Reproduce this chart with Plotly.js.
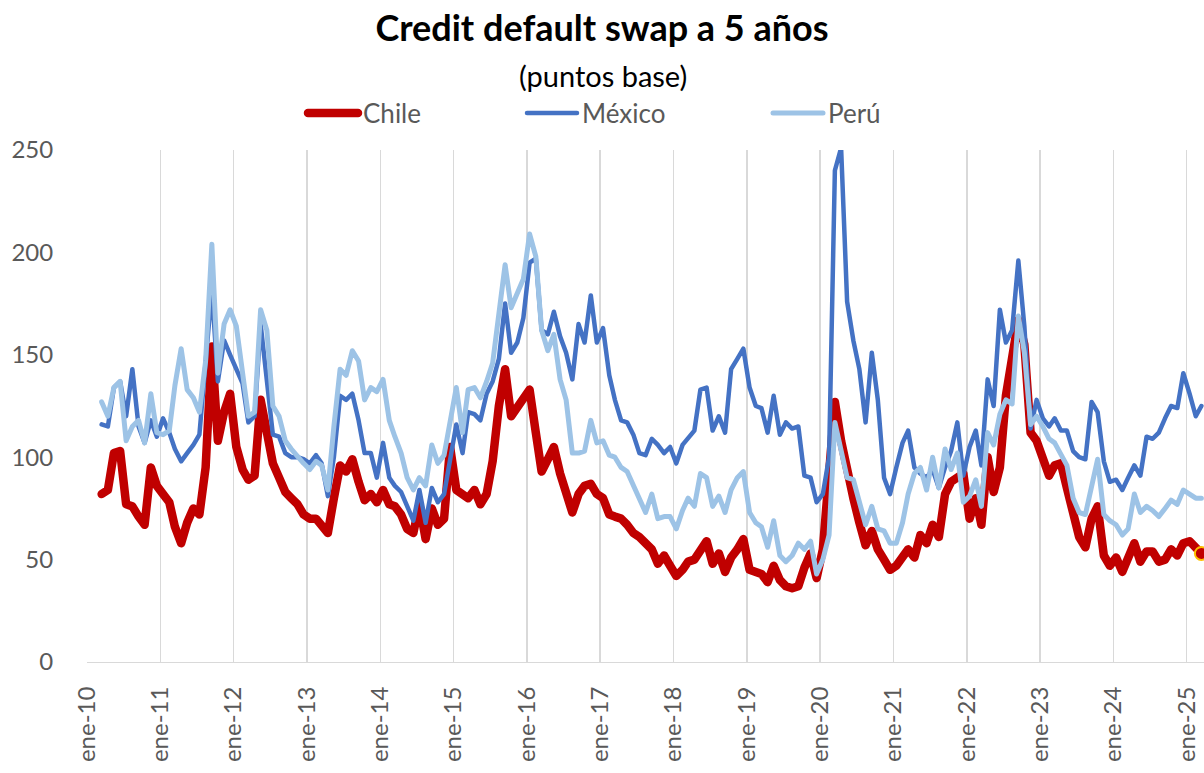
<!DOCTYPE html>
<html>
<head>
<meta charset="utf-8">
<script src="https://cdn.plot.ly/plotly-3.0.1.min.js"></script>
<style>
  html, body { margin: 0; padding: 0; background: #fff; }
  #chart { width: 1204px; height: 773px; }
  .js-line { stroke-linejoin: round !important; stroke-linecap: round !important; }
</style>
</head>
<body>
<div id="chart"></div>
<script>
// Monthly observations (mid-month), Mar-2010 .. Mar-2025
const months = [
  "2010-03-15","2010-04-15","2010-05-15","2010-06-15","2010-07-15","2010-08-15","2010-09-15","2010-10-15","2010-11-15","2010-12-15",
  "2011-01-15","2011-02-15","2011-03-15","2011-04-15","2011-05-15","2011-06-15","2011-07-15","2011-08-15","2011-09-15","2011-10-15","2011-11-15","2011-12-15",
  "2012-01-15","2012-02-15","2012-03-15","2012-04-15","2012-05-15","2012-06-15","2012-07-15","2012-08-15","2012-09-15","2012-10-15","2012-11-15","2012-12-15",
  "2013-01-15","2013-02-15","2013-03-15","2013-04-15","2013-05-15","2013-06-15","2013-07-15","2013-08-15","2013-09-15","2013-10-15","2013-11-15","2013-12-15",
  "2014-01-15","2014-02-15","2014-03-15","2014-04-15","2014-05-15","2014-06-15","2014-07-15","2014-08-15","2014-09-15","2014-10-15","2014-11-15","2014-12-15",
  "2015-01-15","2015-02-15","2015-03-15","2015-04-15","2015-05-15","2015-06-15","2015-07-15","2015-08-15","2015-09-15","2015-10-15","2015-11-15","2015-12-15",
  "2016-01-15","2016-02-15","2016-03-15","2016-04-15","2016-05-15","2016-06-15","2016-07-15","2016-08-15","2016-09-15","2016-10-15","2016-11-15","2016-12-15",
  "2017-01-15","2017-02-15","2017-03-15","2017-04-15","2017-05-15","2017-06-15","2017-07-15","2017-08-15","2017-09-15","2017-10-15","2017-11-15","2017-12-15",
  "2018-01-15","2018-02-15","2018-03-15","2018-04-15","2018-05-15","2018-06-15","2018-07-15","2018-08-15","2018-09-15","2018-10-15","2018-11-15","2018-12-15",
  "2019-01-15","2019-02-15","2019-03-15","2019-04-15","2019-05-15","2019-06-15","2019-07-15","2019-08-15","2019-09-15","2019-10-15","2019-11-15","2019-12-15",
  "2020-01-15","2020-02-15","2020-03-15","2020-04-15","2020-05-15","2020-06-15","2020-07-15","2020-08-15","2020-09-15","2020-10-15","2020-11-15","2020-12-15",
  "2021-01-15","2021-02-15","2021-03-15","2021-04-15","2021-05-15","2021-06-15","2021-07-15","2021-08-15","2021-09-15","2021-10-15","2021-11-15","2021-12-15",
  "2022-01-15","2022-02-15","2022-03-15","2022-04-15","2022-05-15","2022-06-15","2022-07-15","2022-08-15","2022-09-15","2022-10-15","2022-11-15","2022-12-15",
  "2023-01-15","2023-02-15","2023-03-15","2023-04-15","2023-05-15","2023-06-15","2023-07-15","2023-08-15","2023-09-15","2023-10-15","2023-11-15","2023-12-15",
  "2024-01-15","2024-02-15","2024-03-15","2024-04-15","2024-05-15","2024-06-15","2024-07-15","2024-08-15","2024-09-15","2024-10-15","2024-11-15","2024-12-15",
  "2025-01-15","2025-02-15","2025-03-15"
];

const chile = [
  82, 84, 102, 103, 77, 76, 71, 67, 95, 86,
  82, 78, 66, 58, 68, 75, 72, 95, 154, 108, 122, 131,
  105, 94, 89, 91, 128, 110, 97, 90, 83, 80, 77, 72,
  70, 70, 66, 63, 80, 96, 93, 99, 88, 79, 82, 78,
  84, 77, 76, 72, 65, 63, 77, 60, 75, 67, 70, 105,
  84, 82, 80, 84, 77, 82, 98, 125, 143, 120, 124, 128,
  133, 112, 93, 99, 105, 92, 81, 73, 82, 86, 87, 82,
  80, 72, 71, 70, 67, 63, 61, 58, 55, 48, 52, 47,
  42, 45, 49, 50, 55, 59, 48, 53, 44, 51, 55, 60,
  45, 44, 43, 39, 47, 40, 37, 36, 37, 46, 53, 41,
  55, 92, 127, 108, 92, 80, 68, 57, 64, 55, 50, 45,
  47, 52, 55, 51, 62, 58, 67, 61, 82, 88, 90, 92,
  70, 80, 67, 100, 83, 95, 130, 150, 167, 155, 112, 108,
  100, 91, 96, 97, 85, 72, 61, 56, 70, 76, 52, 47,
  51, 44, 50, 58, 49, 54, 54, 49, 50, 55, 52, 58,
  59, 56, 53
];

const mexico = [
  116, 115, 134, 137, 120, 143, 115, 107, 118, 110,
  119, 112, 104, 98, 102, 106, 111, 147, 182, 137, 157, 150,
  143, 136, 117, 120, 165, 137, 111, 110, 102, 100, 100, 99,
  97, 101, 97, 81, 100, 130, 128, 131, 118, 102, 102, 90,
  107, 90, 86, 83, 76, 69, 84, 68, 85, 78, 82, 98,
  116, 102, 122, 121, 118, 131, 137, 148, 175, 151, 156, 168,
  195, 197, 162, 160, 171, 159, 151, 138, 165, 156, 179, 156,
  163, 140, 128, 118, 117, 111, 102, 101, 109, 106, 102, 105,
  97, 106, 109, 113, 133, 134, 113, 120, 112, 143, 148, 153,
  134, 125, 124, 112, 130, 111, 117, 114, 115, 91, 90, 78,
  82, 100, 240, 251, 176, 157, 143, 117, 151, 128, 90, 82,
  95, 107, 113, 95, 92, 90, 94, 85, 95, 103, 117, 91,
  105, 113, 96, 138, 125, 172, 156, 162, 196, 164, 114, 128,
  119, 115, 119, 113, 113, 103, 100, 99, 127, 122, 98, 88,
  89, 84, 90, 96, 91, 110, 109, 112, 119, 125, 124, 141,
  131, 120, 125
];

const peru = [
  127, 120, 134, 137, 108, 115, 118, 107, 131, 112,
  111, 113, 135, 153, 133, 129, 122, 147, 204, 141, 165, 172,
  164, 143, 120, 122, 172, 162, 125, 120, 108, 104, 100, 97,
  94, 98, 96, 84, 115, 143, 140, 152, 147, 128, 134, 132,
  138, 118, 110, 102, 90, 84, 90, 86, 106, 97, 101, 118,
  134, 112, 133, 134, 129, 137, 146, 170, 194, 173, 180, 187,
  209, 198, 162, 152, 160, 138, 128, 102, 102, 103, 118, 107,
  108, 101, 100, 95, 93, 86, 79, 73, 82, 70, 71, 71,
  65, 74, 80, 76, 92, 90, 76, 81, 73, 84, 90, 93,
  73, 68, 66, 56, 69, 52, 49, 52, 58, 55, 59, 43,
  50, 62, 117, 102, 90, 89, 78, 67, 76, 65, 64, 58,
  58, 68, 82, 92, 95, 84, 100, 85, 104, 94, 102, 78,
  81, 89, 76, 112, 106, 121, 128, 126, 169, 151, 116, 120,
  115, 109, 107, 102, 96, 80, 73, 72, 85, 99, 72, 69,
  67, 62, 65, 82, 73, 76, 74, 71, 75, 79, 77, 84,
  82, 80, 80
];

const tickDates = ["2010-01-01","2011-01-01","2012-01-01","2013-01-01","2014-01-01","2015-01-01","2016-01-01","2017-01-01",
                   "2018-01-01","2019-01-01","2020-01-01","2021-01-01","2022-01-01","2023-01-01","2024-01-01","2025-01-01"];
const tickText = ["ene-10","ene-11","ene-12","ene-13","ene-14","ene-15","ene-16","ene-17",
                  "ene-18","ene-19","ene-20","ene-21","ene-22","ene-23","ene-24","ene-25"];
const yTicks = [0, 50, 100, 150, 200, 250];

const FONT = "Lato, 'Noto Sans', sans-serif";
const GREY = '#595959';

const traces = [
  { x: months, y: chile, name: 'Chile', type: 'scatter', mode: 'lines',
    line: { color: '#C00000', width: 8.5 }, legend: 'legend', hoverinfo: 'skip' },
  { x: months, y: mexico, name: 'México', type: 'scatter', mode: 'lines',
    line: { color: '#4472C4', width: 4.5 }, legend: 'legend2', hoverinfo: 'skip' },
  { x: months, y: peru, name: 'Perú', type: 'scatter', mode: 'lines',
    line: { color: '#9DC3E6', width: 5 }, legend: 'legend3', hoverinfo: 'skip' },
  { x: [months[months.length - 1]], y: [chile[chile.length - 1]], type: 'scatter', mode: 'markers',
    marker: { size: 13, color: '#C00000', line: { color: '#FFC000', width: 2 } },
    showlegend: false, hoverinfo: 'skip', cliponaxis: true }
];

const legendBase = {
  orientation: 'h', yanchor: 'middle', y: 1.0723, xanchor: 'left',
  font: { family: FONT, size: 26, color: GREY }, bgcolor: 'rgba(0,0,0,0)',
  itemwidth: 50, tracegroupgap: 0
};

const layout = {
  width: 1204, height: 773,
  margin: { l: 87, r: 0, t: 150, b: 111, pad: 0 },
  paper_bgcolor: '#fff', plot_bgcolor: '#fff',
  font: { family: FONT, color: GREY },
  title: {
    text: '<b>Credit default swap a 5 años</b>',
    font: { family: FONT, size: 36, color: '#000' },
    x: 0.5, xref: 'container', xanchor: 'center',
    y: 1 - 28 / 773, yref: 'container', yanchor: 'middle'
  },
  annotations: [{
    text: '(puntos base)', xref: 'paper', yref: 'paper',
    x: (603 - 87) / 1117, y: 1 + (150 - 75) / 512, xanchor: 'center', yanchor: 'middle',
    showarrow: false, font: { family: FONT, size: 29, color: '#000' }
  }],
  xaxis: {
    type: 'date', range: ['2010-01-01', '2025-03-28'],
    tickmode: 'array', tickvals: tickDates, ticktext: tickText, tickangle: -90,
    showgrid: true, gridcolor: '#d9d9d9', gridwidth: 1.5,
    zeroline: false, showline: true, linecolor: '#d9d9d9', linewidth: 1,
    ticks: 'outside', ticklen: 14, tickcolor: 'rgba(0,0,0,0)',
    tickfont: { family: FONT, size: 24, color: GREY }, fixedrange: true
  },
  yaxis: {
    range: [0, 250], tickmode: 'array', tickvals: yTicks,
    showgrid: false, zeroline: false, showline: false,
    ticks: 'outside', ticklen: 28, tickcolor: 'rgba(0,0,0,0)',
    tickfont: { family: FONT, size: 24, color: GREY }, fixedrange: true
  },
  showlegend: true,
  legend: Object.assign({}, legendBase, { x: (303 - 87) / 1117 }),
  legend2: Object.assign({}, legendBase, { x: (522 - 87) / 1117 }),
  legend3: Object.assign({}, legendBase, { x: (768 - 87) / 1117 })
};

Plotly.newPlot('chart', traces, layout, { displayModeBar: false, staticPlot: true });
</script>
</body>
</html>
